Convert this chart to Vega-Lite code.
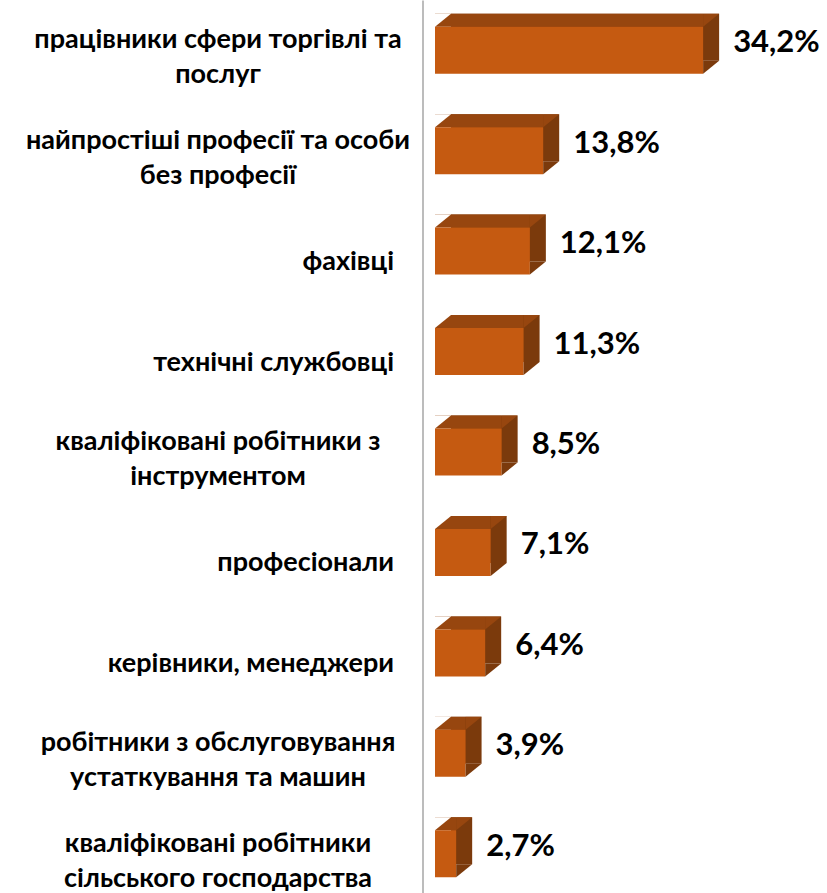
{
  "$schema": "https://vega.github.io/schema/vega-lite/v6.json",
  "width": 392,
  "height": 893,
  "autosize": {"type": "none"},
  "padding": {"left": 435, "top": 0, "right": 0, "bottom": 0},
  "background": "white",
  "config": {"view": {"stroke": null}, "font": "Lato"},
  "data": {
    "values": [
      {"occupation": "працівники сфери торгівлі та\nпослуг", "value": 34.2},
      {"occupation": "найпростіші професії та особи\nбез професії", "value": 13.8},
      {"occupation": "фахівці", "value": 12.1},
      {"occupation": "технічні службовці", "value": 11.3},
      {"occupation": "кваліфіковані робітники з\nінструментом", "value": 8.5},
      {"occupation": "професіонали", "value": 7.1},
      {"occupation": "керівники, менеджери ", "value": 6.4},
      {"occupation": "робітники з обслуговування\nустаткування та машин", "value": 3.9},
      {"occupation": "кваліфіковані робітники\nсільського господарства", "value": 2.7}
    ]
  },
  "encoding": {
    "y": {
      "field": "occupation",
      "type": "nominal",
      "sort": null,
      "scale": {"range": [0, 904], "paddingInner": 0.5, "paddingOuter": 0.25},
      "axis": {
        "title": null,
        "domain": true,
        "domainColor": "#bcbcbc",
        "domainWidth": 2,
        "ticks": false,
        "grid": false,
        "offset": 12.5,
        "labelPadding": {"condition": {"test": "indexof(datum.label, '\\n') >= 0", "value": 205}, "value": 29},
        "labelAlign": {"condition": {"test": "indexof(datum.label, '\\n') >= 0", "value": "center"}, "value": "right"},
        "labelOffset": {"condition": {"test": "indexof(datum.label, '\\n') >= 0", "value": -10}, "value": 11},
        "labelFont": "Lato",
        "labelFontSize": 27,
        "labelFontWeight": "bold",
        "labelColor": "#000000",
        "labelLimit": 0,
        "labelLineHeight": 35,
        "labelExpr": "split(datum.label, '\\n')"
      }
    }
  },
  "layer": [
    {
      "mark": {"type": "bar", "color": "#7B3A0C", "size": 47, "xOffset": 16, "x2Offset": 16, "yOffset": -13, "y2Offset": -13},
      "encoding": {"x": {"field": "value", "type": "quantitative", "scale": {"domain": [0, 49.25]}, "axis": null}}
    },
    {
      "mark": {"type": "bar", "color": "#97460F", "size": 13, "yOffset": -30, "y2Offset": -30},
      "encoding": {"x": {"field": "value", "type": "quantitative"}}
    },
    {
      "mark": {"type": "bar", "color": "#C55A11", "size": 47},
      "encoding": {"x": {"field": "value", "type": "quantitative"}}
    },
    {
      "mark": {"type": "point", "shape": "M0,-13L16,-13L0,0Z", "size": 4, "filled": true, "opacity": 1, "strokeWidth": 0, "color": "#ffffff", "yOffset": -23.5},
      "encoding": {"x": {"datum": 0, "type": "quantitative"}}
    },
    {
      "mark": {"type": "point", "shape": "M0,-13L16,-13L0,0Z", "size": 4, "filled": true, "opacity": 1, "strokeWidth": 0, "color": "#97460F", "yOffset": -23.5},
      "encoding": {"x": {"field": "value", "type": "quantitative"}}
    },
    {
      "mark": {"type": "point", "shape": "M0,-13L16,-13L0,0Z", "size": 4, "filled": true, "opacity": 1, "strokeWidth": 0, "color": "#7B3A0C", "yOffset": 23.5},
      "encoding": {"x": {"field": "value", "type": "quantitative"}}
    },
    {
      "mark": {
        "type": "text",
        "align": "left",
        "baseline": "middle",
        "dx": 30,
        "dy": -7,
        "font": "Lato",
        "fontSize": 31,
        "fontWeight": "bold",
        "color": "#000000",
        "text": {"expr": "replace(format(datum.value, '.1f'), '.', ',') + '%'"}
      },
      "encoding": {"x": {"field": "value", "type": "quantitative"}}
    }
  ]
}
